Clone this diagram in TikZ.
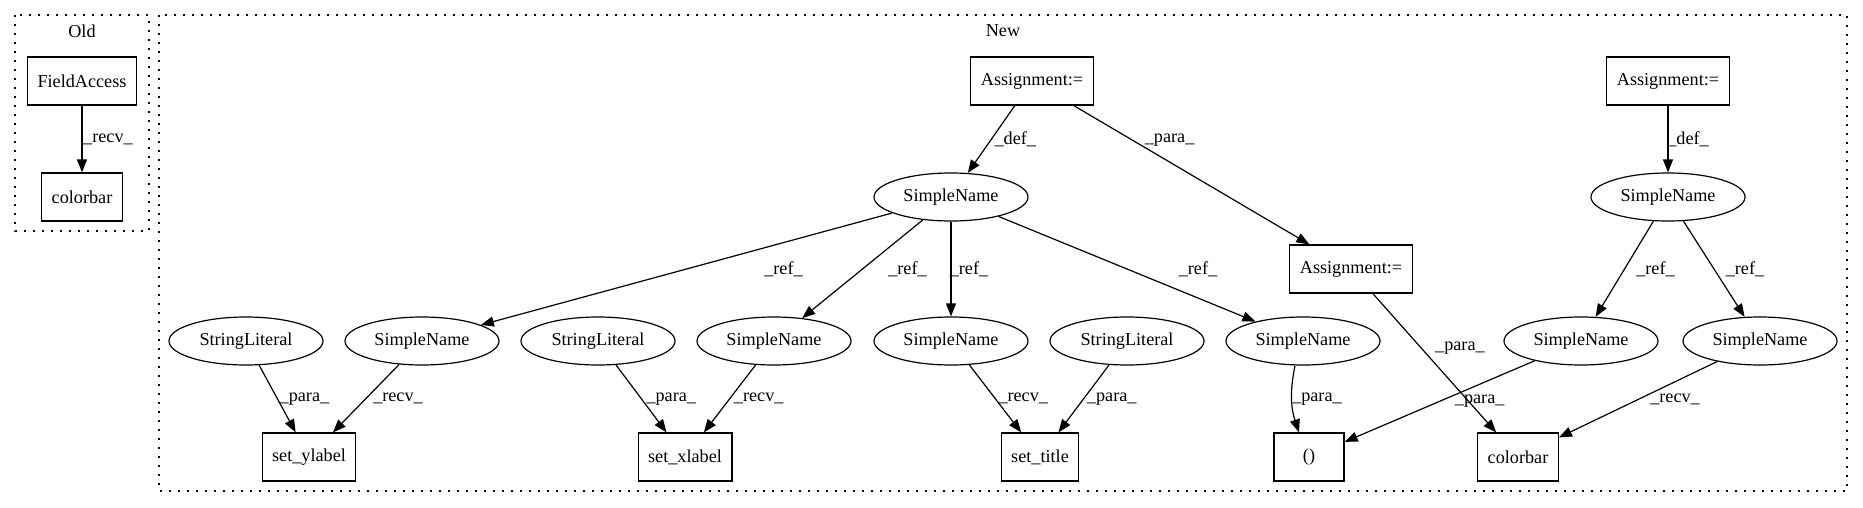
\documentclass[tikz,border=0pt]{standalone}
\usepackage{fontspec}
\setmainfont{Liberation Serif}
\usetikzlibrary{arrows.meta, positioning, shapes.geometric}
\tikzset{>={Triangle[length=13pt, width=10pt]}}
\tikzset{ast-box/.style = {draw, rectangle, minimum height=48pt, minimum width=70pt, inner xsep=10pt}}
\tikzset{ast-ell/.style = {draw, ellipse, minimum height=48pt, minimum width=154pt, inner sep=0pt}}
\tikzset{cluster/.style = {line width=1.3pt, dash pattern=on 2pt off 7pt}}
\tikzset{lbl/.style = {inner sep=0pt}}

\begin{document}
\begin{tikzpicture}[x=1pt, y=-1pt, font=\fontsize{18.2}{21}\selectfont, line width=1.2pt]
  \useasboundingbox (0,0) rectangle (1863,508);
  % clusters
  \draw[cluster] (15,15) rectangle (149,231);
  \draw[cluster] (159,15) rectangle (1847,491);
  \node (old) at (82,31) {Old};
  \node (new) at (1003,31) {New};

  % old
  \node[ast-box] (fa) at (82,81) {FieldAccess};
  \node[ast-box] (ocb) at (82,197) {colorbar};

  % new, top rows
  \node[ast-box] (a1) at (1032,81) {Assignment:=};
  \node[ast-box] (a2) at (1668,81) {Assignment:=};
  \node[ast-ell] (s0) at (951,197) {SimpleName};
  \node[ast-ell] (s5) at (1668,197) {SimpleName};
  \node[ast-box] (a3) at (1351,269) {Assignment:=};

  % new, third row
  \path (246,341) node[ast-ell] (sl1) {StringLiteral}
      ++(176,0) node[ast-ell] (sn1) {SimpleName}
      ++(176,0) node[ast-ell] (sl2) {StringLiteral}
      ++(176,0) node[ast-ell] (sn2) {SimpleName}
      ++(177,0) node[ast-ell] (sn3) {SimpleName}
      ++(176,0) node[ast-ell] (sl3) {StringLiteral}
      ++(176,0) node[ast-ell] (sn4) {SimpleName}
      ++(278,0) node[ast-ell] (sn6) {SimpleName}
      ++(179,0) node[ast-ell] (sn7) {SimpleName};

  % new, bottom row
  \node[ast-box] (yl) at (309,457) {set\_ylabel};
  \node[ast-box] (xl) at (685,457) {set\_xlabel};
  \node[ast-box] (ti) at (1040,457) {set\_title};
  \node[ast-box] (pr) at (1309,457) {()};
  \node[ast-box] (cb) at (1518,457) {colorbar};

  \foreach \i/\o/\l/\p/\d in
  {fa/ocb/\_recv\_/0.5/26,
   a1/s0/\_def\_/0.5/24, a1/a3/\_para\_/0.25/37, a2/s5/\_def\_/0.5/20,
   s0/sn1/\_ref\_/0.5/97, s0/sn2/\_ref\_/0.5/45, s0/sn3/\_ref\_/0.5/18, s0/sn4/\_ref\_/0.5/71,
   s5/sn6/\_ref\_/0.5/31, s5/sn7/\_ref\_/0.5/31,
   sl1/yl/\_para\_/0.5/27, sn1/yl/\_recv\_/0.5/32,
   sl2/xl/\_para\_/0.5/30, sn2/xl/\_recv\_/0.5/29,
   sn3/ti/\_recv\_/0.5/28, sl3/ti/\_para\_/0.5/28,
   sn6/pr/\_para\_/0.5/40, a3/cb/\_para\_/0.39/39, sn7/cb/\_recv\_/0.5/37}
  {
    \draw[->] (\i) -- node[lbl, pos=\p, xshift=\d pt] {\l} (\o);
  }
  \draw[->] ([xshift=-8pt]sn4.south) to[bend right=15] node[lbl, xshift=25pt] {\_para\_} ([xshift=-10pt]pr.north);
\end{tikzpicture}
\end{document}
